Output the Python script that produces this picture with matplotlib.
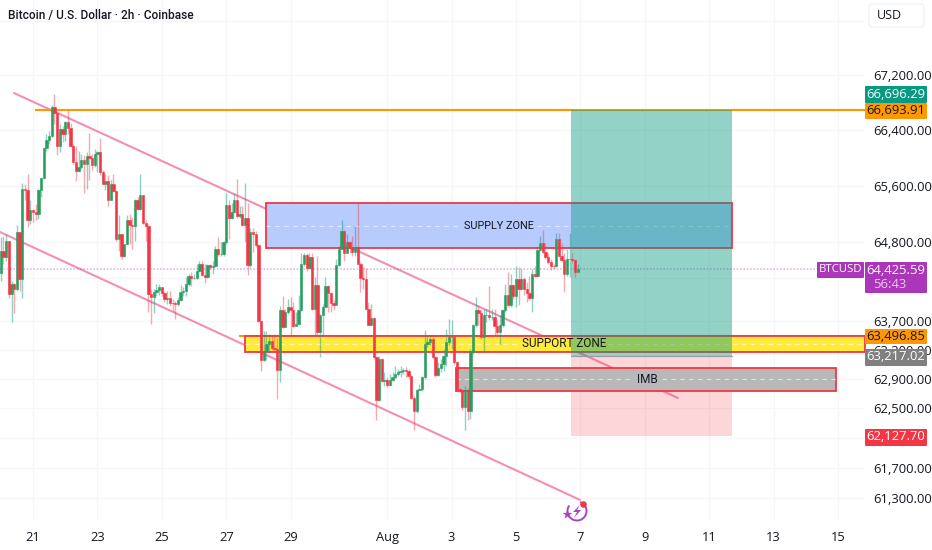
"""Bitcoin / U.S. Dollar 2h candles with supply and support zones and a long position box."""
import numpy as np
import matplotlib
matplotlib.use("Agg")
import matplotlib.pyplot as plt
from matplotlib.patches import Rectangle, FancyBboxPatch, Arc, Polygon
from matplotlib.ticker import FixedLocator, NullLocator

plt.rcParams['font.family'] = ['Roboto', 'Open Sans', 'DejaVu Sans']

# candles, one every 2 hours
first_open = 64365
closes = [
    64680, 64590, 64825, 64070, 64210, 64140, 64940, 64280, 65550, 65535, 65110, 65250,
    65230, 65205, 65535, 65710, 66140, 66255, 66320, 66730, 66650, 66175, 66420, 66350,
    66510, 66435, 66165, 65940, 65805, 65875, 65975, 65915, 66020, 65995, 65900, 66055,
    66090, 65795, 65630, 65670, 65395, 65620, 65530, 64840, 64920, 64610, 64775, 65120,
    65045, 65030, 65405, 65265, 65465, 65070, 65025, 64080, 64030, 64110, 64137, 64170,
    64085, 64006, 64020, 63955, 63946, 63937, 63997, 64100, 64123, 64216, 64323, 64295,
    64304, 64402, 64495, 64346, 64309, 64476, 64448, 64462, 64704, 64634, 64634, 64797,
    65332, 65146, 65225, 65402, 65169, 65206, 65039, 65146, 64481, 64946, 64923, 64760,
    63695, 63160, 63286, 63379, 63425, 63332, 63309, 63021, 63858, 63611, 63830, 63890,
    63850, 63631, 63654, 63848, 64495, 64619, 64435, 64587, 63871, 64194, 63548, 63779,
    63894, 64185, 64088, 63954, 63926, 64481, 64712, 64957, 64656, 64809, 64726, 64666,
    64735, 64495, 64296, 64287, 63871, 63649, 63742, 63201, 62614, 63178, 62878, 62892,
    62822, 62892, 62933, 62970, 62993, 63007, 63021, 63007, 62947, 62647, 62462, 62748,
    62762, 62924, 63386, 63409, 63446, 63201, 62961, 63049, 63109, 63224, 63409, 63478,
    63478, 63132, 62762, 62758, 62522, 62758, 62471, 63270, 63640, 63848, 63816, 63478,
    63779, 63779, 63755, 63755, 63631, 63548, 63640, 63857, 64065, 63926, 64194, 64047,
    64287, 64148, 64287, 64148, 64088, 64019, 64356, 64333, 64693, 64795, 64666, 64596,
    64527, 64472, 64462, 64841, 64610, 64555, 64356, 64564, 64564, 64555, 64388, 64425.59,
]
highs = [
    64870, 64895, 64920, 64825, 64255, 64230, 65040, 64940, 65640, 65630, 65770, 65395,
    65275, 65345, 65560, 65725, 66150, 66340, 66390, 66770, 66920, 66670, 66485, 66460,
    66530, 66695, 66505, 66200, 66175, 66105, 66055, 66035, 66080, 66365, 66055, 66130,
    66105, 66285, 65820, 65770, 65750, 65680, 65770, 65535, 65180, 64920, 64775, 65180,
    65205, 65155, 65415, 65440, 65770, 65465, 65110, 65060, 64146, 64146, 64216, 64216,
    64170, 64123, 64123, 64123, 64006, 63983, 64030, 64202, 64170, 64309, 64355, 64378,
    64355, 64495, 64541, 64541, 64495, 64495, 64495, 64541, 64750, 64876, 64797, 64820,
    65494, 65402, 65355, 65494, 65694, 65308, 65308, 65643, 65355, 65006, 65006, 64960,
    64774, 63704, 63565, 63565, 63518, 63495, 63518, 63472, 63913, 64044, 63867, 64006,
    64030, 63960, 63825, 64056, 64656, 64656, 64656, 64656, 64656, 64310, 64610, 63802,
    63940, 64310, 64204, 64102, 63987, 64564, 64749, 65109, 64980, 64910, 64818, 64887,
    65026, 65354, 64518, 64449, 64435, 63963, 63940, 63755, 63224, 63224, 63187, 62993,
    62924, 62970, 62993, 63086, 63039, 63086, 63049, 63062, 63039, 62956, 62670, 62762,
    62832, 62947, 63571, 63501, 63501, 63478, 63224, 63132, 63178, 63317, 63594, 63732,
    63709, 63501, 63155, 62785, 62771, 62808, 62785, 63317, 63663, 64033, 63917, 63848,
    63871, 63871, 64185, 63871, 63871, 63732, 63779, 63871, 64217, 64379, 64356, 64217,
    64472, 64449, 64425, 64310, 64241, 64333, 64425, 64472, 64726, 64887, 64980, 64795,
    64656, 64564, 64495, 64924, 64924, 64795, 64656, 64703, 64934, 64656, 64564, 64495,
]
lows = [
    64255, 64490, 64540, 64020, 63687, 63805, 64115, 64115, 64020, 65395, 65015, 65060,
    65085, 65110, 65130, 65440, 65700, 66105, 66200, 66295, 66485, 66035, 66080, 66225,
    66245, 66340, 66150, 65915, 65670, 65795, 65845, 65500, 65560, 65680, 65820, 65865,
    65795, 65750, 65620, 65535, 65320, 65395, 65510, 64825, 64680, 64565, 64595, 64775,
    64775, 64705, 64825, 65250, 65250, 65060, 64825, 63830, 63658, 63811, 64053, 64062,
    64053, 63960, 63937, 63914, 63844, 63727, 63914, 63983, 64053, 64053, 64192, 64192,
    64285, 64285, 64378, 64323, 64225, 64295, 64425, 64355, 64448, 64611, 64611, 64611,
    64774, 64843, 65122, 65216, 65146, 65146, 65030, 64797, 64341, 64448, 64657, 64727,
    63681, 63007, 63146, 63169, 63262, 63300, 63286, 62635, 62867, 63597, 63611, 63797,
    63495, 63611, 63631, 63640, 63834, 64472, 64402, 64425, 63848, 63501, 63511, 63201,
    63501, 63894, 63825, 63825, 63848, 63917, 64472, 64703, 64541, 64656, 64656, 64610,
    64610, 64495, 64102, 64148, 63862, 63640, 63640, 63178, 62346, 62600, 62855, 62808,
    62794, 62808, 62878, 62901, 62947, 62924, 62970, 62924, 62901, 62624, 62208, 62439,
    62739, 62739, 62901, 63340, 63363, 63178, 62924, 62947, 62993, 63016, 63086, 63363,
    63317, 63109, 62739, 62716, 62485, 62208, 62346, 62356, 63247, 63617, 63640, 63455,
    63270, 63686, 63709, 63709, 63501, 63501, 63386, 63617, 63825, 63894, 63894, 64010,
    63894, 63917, 64125, 64056, 63963, 63987, 63825, 64310, 64310, 64680, 64656, 64564,
    64495, 64412, 64425, 64449, 64601, 64541, 64102, 64333, 64310, 64518, 64310, 64379,
]
opens = [first_open] + closes[:-1]

# axis ticks (x is the day count from 1 July, so Aug 1 is 32)
day_ticks = [21, 23, 25, 27, 29, 32, 34, 36, 38, 40, 42, 44, 46]
day_labels = ['21', '23', '25', '27', '29', 'Aug', '3', '5', '7', '9', '11', '13', '15']
price_ticks = [68000, 67200, 66400, 65600, 64800, 64300, 63700, 63300, 62900, 62500, 62100, 61700, 61300]
hidden_labels = [68000, 64300, 62100]

# drawings
last_price = 64425.59
target_price = 66696.29
resistance = 66693.91
entry_price = 63217.02
stop_price = 62127.70
support_top = 63496.85
support_bottom = 63273
supply_top = 65354
supply_bottom = 64720
imb_top = 63053
imb_bottom = 62739

RED = '#f23645'
GREEN = '#2a9d5f'
TEAL = '#089981'
PINK = '#f48fb1'
PURPLE = '#ab36ba'
ORANGE = '#ff9800'
INK = '#131722'
GRID = '#f5f6f8'
NUMBER_FONT = 'Open Sans'

fig = plt.figure(figsize=(9.32, 5.5), dpi=100, facecolor='white')
ax = fig.add_axes([0, 30 / 550, 865 / 932, 520 / 550])
ax.set_yscale('log')
ax.set_xlim(19.975, 46.84)
ax.set_ylim(61003, 68305)
for s in ax.spines.values():
    s.set_visible(False)

ax.xaxis.set_major_locator(FixedLocator(day_ticks))
ax.set_xticklabels(day_labels)
ax.yaxis.tick_right()
ax.yaxis.set_major_locator(FixedLocator(price_ticks))
ax.yaxis.set_minor_locator(NullLocator())
ax.set_yticklabels(['' if p in hidden_labels else f'{p:,.2f}' for p in price_ticks])
ax.tick_params(axis='x', length=0, pad=8, labelsize=9.3, labelcolor=INK, labelfontfamily=NUMBER_FONT)
ax.tick_params(axis='y', length=0, pad=6, labelsize=9.4, labelcolor=INK, labelfontfamily=NUMBER_FONT)
ax.grid(True, color=GRID, lw=1)
ax.set_axisbelow(True)

# trend channel, under the boxes
ax.plot([20.41, 41.03], [66937, 62643], color=PINK, lw=1.5, zorder=2, solid_capstyle='round')
ax.plot([19.975, 37.99], [64945, 61270], color=PINK, lw=1.5, zorder=2, solid_capstyle='round')

# orange levels
ax.plot([21.09, 46.84], [resistance, resistance], color=ORANGE, lw=1.5, zorder=2.2)
ax.plot([27.43, 46.84], [support_top, support_top], color=ORANGE, lw=1.5, zorder=2.2)


def zone(x0, x1, top, bottom, fill, z, label, label_x, gap, size=8.5):
    ax.add_patch(Rectangle((x0, bottom), x1 - x0, top - bottom, facecolor=fill,
                           edgecolor='none', zorder=z))
    ax.add_patch(Rectangle((x0, bottom), x1 - x0, top - bottom, facecolor='none',
                           edgecolor=RED, lw=1.3, zorder=z + 0.1, clip_on=False))
    mid = np.sqrt(top * bottom)
    # dashed middle line stops either side of the label
    ax.plot([x0, label_x - gap], [mid, mid], color='white', lw=0.8, ls=(0, (4, 4)), alpha=0.6, zorder=z + 0.1)
    ax.plot([label_x + gap, x1], [mid, mid], color='white', lw=0.8, ls=(0, (4, 4)), alpha=0.6, zorder=z + 0.1)
    ax.text(label_x, mid, label, ha='center', va='center', fontsize=size, color=INK, zorder=7)


zone(28.236, 42.708, supply_top, supply_bottom, '#b8cbfd', 2.5, 'SUPPLY ZONE', 35.456, 1.2, size=7.8)
zone(27.584, 46.84, support_top, support_bottom, '#ffeb3b', 2.5, 'SUPPORT ZONE', 37.5, 1.35)

# long position box
ax.add_patch(Rectangle((37.708, entry_price), 5.0, target_price - entry_price,
                       facecolor=TEAL, alpha=0.44, edgecolor='none', zorder=3))
ax.add_patch(Rectangle((37.708, stop_price), 5.0, entry_price - stop_price,
                       facecolor=RED, alpha=0.2, edgecolor='none', zorder=3))
ax.plot([37.708, 42.708], [entry_price, entry_price], color='#9a9a9a', lw=0.8, zorder=3.1)

zone(34.152, 45.938, imb_top, imb_bottom, '#b8b8b8', 3.5, 'IMB', 40.07, 0.45)

# last price line
ax.plot([19.975, 45.43], [last_price, last_price], color=PURPLE, alpha=0.35, lw=1.2, ls=(0, (1, 1)), zorder=2.6)

# candles
xs = 20 + np.arange(len(closes)) / 12
o = np.array(opens, dtype=float)
c = np.array(closes, dtype=float)
up = c >= o
for mask, col, wick_alpha, wick_col in [(up, GREEN, 0.45, TEAL), (~up, RED, 0.42, RED)]:
    ax.vlines(xs[mask], np.array(lows)[mask], np.array(highs)[mask], color=wick_col, alpha=wick_alpha,
              lw=1.0, zorder=4)
    ax.bar(xs[mask], np.abs(c - o)[mask], bottom=np.minimum(o, c)[mask], width=0.072, color=col,
           edgecolor=col, lw=0.4, zorder=5)

# overlay in figure pixels for the price tags, header and watermark icon
ov = fig.add_axes([0, 0, 1, 1], facecolor='none')
ov.set_xlim(0, 932)
ov.set_ylim(550, 0)
ov.axis('off')

ov.text(8, 15.5, 'Bitcoin / U.S. Dollar · 2h · Coinbase', fontsize=8.6, fontweight=500, color=INK, va='center')
ov.add_patch(FancyBboxPatch((869, 4), 55, 23, boxstyle='round,pad=0,rounding_size=3',
                            facecolor='white', edgecolor='#f0f3fa', lw=1))
ov.text(877, 15.5, 'USD', fontsize=9, color=INK, va='center', family=NUMBER_FONT)


def tag(y0, y1, text, bg, fg, x0=865, x1=927, size=9.4):
    ov.add_patch(FancyBboxPatch((x0, y0), x1 - x0, y1 - y0, boxstyle='round,pad=0,rounding_size=1',
                                facecolor=bg, edgecolor='none', zorder=5))
    ov.text((x0 + x1) / 2, (y0 + y1) / 2 - 0.5, text, fontsize=size, color=fg, ha='center', va='center',
            zorder=6, family=NUMBER_FONT)


tag(86, 103, '66,696.29', TEAL, 'white')
tag(103, 119, '66,693.91', ORANGE, INK)
tag(329, 344, '63,496.85', ORANGE, INK)
tag(349, 366, '63,217.02', '#808080', 'white')
tag(429, 446, '62,127.70', RED, 'white')
tag(262, 293, '', PURPLE, 'white')
ov.text(896, 270, '64,425.59', fontsize=9.4, color='white', ha='center', va='center', zorder=6, family=NUMBER_FONT)
ov.text(873, 284, '56:43', fontsize=9.4, color='#ecc9f0', ha='left', va='center', zorder=6, family=NUMBER_FONT)
tag(262, 278, 'BTCUSD', PURPLE, 'white', x0=817, x1=864, size=8.2)

# watermark icon
ov.add_patch(Arc((577, 511), 19, 19, theta1=-70, theta2=215, color='#a845c0', lw=1.4))
ov.add_patch(Polygon([(580, 505), (573, 512), (577, 512), (574, 518), (581, 510), (577, 510)],
                     closed=True, facecolor='#a845c0', edgecolor='none'))
ov.scatter([566.5], [514], marker='*', s=55, color='#a845c0', linewidths=0)
ov.scatter([583], [504], s=22, color=RED, linewidths=0, zorder=6)

fig.savefig('out.png', dpi=100)
